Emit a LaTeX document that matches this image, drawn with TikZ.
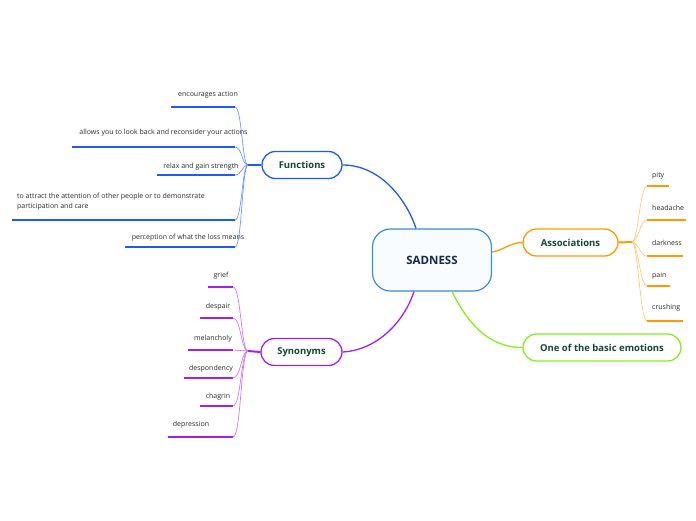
\documentclass[tikz,border=0pt]{standalone}
\usepackage{fontspec}
\setmainfont{Open Sans}
\usetikzlibrary{calc}
\definecolor{cfun}{RGB}{30,90,250}
\definecolor{cfunl}{RGB}{110,150,255}
\definecolor{csyn}{RGB}{160,32,240}
\definecolor{csynl}{RGB}{200,120,255}
\definecolor{cass}{RGB}{255,153,0}
\definecolor{cassl}{RGB}{255,200,120}
\definecolor{cemo}{RGB}{130,240,30}
\definecolor{csad}{RGB}{60,140,210}
\definecolor{csadfill}{RGB}{248,252,255}
\definecolor{ctopic}{RGB}{20,70,50}
\definecolor{csadtext}{RGB}{20,40,80}
\definecolor{cleaf}{RGB}{40,40,40}
\begin{document}
\begin{tikzpicture}[x=1pt,y=-1pt,
  central/.style={draw=csad, fill=csadfill, line width=1.2pt, rounded corners=18pt,
    minimum width=119pt, minimum height=62pt, inner sep=0pt,
    font=\fontsize{11.5}{13}\selectfont\bfseries, text=csadtext},
  topic/.style={fill=white, line width=1.3pt, rounded corners=13.5pt, minimum height=27pt,
    inner sep=0pt, font=\fontsize{9.5}{11}\selectfont\bfseries, text=ctopic},
  leaf/.style={inner sep=0pt, font=\fontsize{7}{10}\selectfont, text=cleaf},
  uline/.style={line width=2pt},
  branch/.style={line width=0.7pt},
  main/.style={line width=1.3pt}]
\useasboundingbox (0,0) rectangle (696,520);

% main nodes
\node[central] (sad) at (432,260) {SADNESS};
\node[topic, draw=cfun, minimum width=80pt] (fun) at (302,165) {Functions};
\node[topic, draw=csyn, minimum width=81pt] (syn) at (301.5,352) {Synonyms};
\node[topic, draw=cass, minimum width=95pt] (ass) at (570.5,242.5) {Associations};
\node[topic, draw=cemo, minimum width=158pt] (emo) at (602,347.5) {One of the basic emotions};

% main connectors
\draw[main, cfun] (fun.east) .. controls +(40,0) and +(-8,-25) .. ($(sad.north)+(-16,0)$);
\draw[main, csyn] (syn.east) .. controls +(35,-2) and +(-10,30) .. ($(sad.south)+(-18,0)$);
\draw[main, cemo] ($(sad.south)+(20,0)$) .. controls +(15,30) and +(-35,0) .. (emo.west);
\draw[main, cass] ($(sad.east)+(0,-8)$) .. controls +(12,-2) and +(-12,0) .. (ass.west);

% Functions
\coordinate (fj) at (248,165);
\draw[uline, cfun] (fun.west) -- (fj);
\foreach \n/\t/\cx/\ty/\ly/\lx in {
  f1/{encourages action}/208/95/107/171,
  f2/{allows you to look back and reconsider your actions}/163.5/133/147/72,
  f3/{relax and gain strength}/201/167/175/157,
  f5/{perception of what the loss means}/188/238/247/125} {
  \node[leaf] (\n) at (\cx,\ty) {\t};
  \coordinate (\n a) at (\lx,\ly);
  \coordinate (\n b) at (235,\ly);
  \draw[uline, cfun] (\n a) -- (\n b);
  \draw[branch, cfunl] (fj) .. controls +(-6,0) and +(7,0) .. (\n b);
}
\node[leaf, anchor=north west, align=left] (f4) at (17,193)
  {to attract the attention of other people or to demonstrate\\participation and care};
\coordinate (f4a) at (12,220);
\coordinate (f4b) at (235,220);
\draw[uline, cfun] (f4a) -- (f4b);
\draw[branch, cfunl] (fj) .. controls +(-6,0) and +(7,0) .. (f4b);

% Synonyms
\coordinate (sj) at (248,351);
\draw[uline, csyn] (syn.west) -- (sj);
\foreach \n/\t/\cx/\ty/\ly/\lx in {
  s1/{grief}/221/276/287/208,
  s2/{despair}/218/307/318/200,
  s3/{melancholy}/213/339/350/188,
  s4/{despondency}/211/369/378/184,
  s5/{chagrin}/218/397/406/200,
  s6/{depression}/191/425/437/168} {
  \node[leaf] (\n) at (\cx,\ty) {\t};
  \coordinate (\n a) at (\lx,\ly);
  \coordinate (\n b) at (233,\ly);
  \draw[uline, csyn] (\n a) -- (\n b);
  \draw[branch, csynl] (sj) .. controls +(-7,0) and +(8,0) .. (\n b);
}

% Associations
\coordinate (aj) at (632,242);
\draw[uline, cass] (ass.east) -- (aj);
\foreach \n/\t/\ty/\ly/\lx in {
  a1/{pity}/176/186/669,
  a2/{headache}/208/220/686,
  a3/{darkness}/243/256/683,
  a4/{pain}/276/286/670,
  a5/{crushing}/308/321/683} {
  \node[leaf, anchor=west] (\n) at (652,\ty) {\t};
  \coordinate (\n a) at (647,\ly);
  \coordinate (\n b) at (\lx,\ly);
  \draw[uline, cass] (\n a) -- (\n b);
  \draw[branch, cassl] (aj) .. controls +(6,0) and +(-7,0) .. (\n a);
}
\end{tikzpicture}
\end{document}
